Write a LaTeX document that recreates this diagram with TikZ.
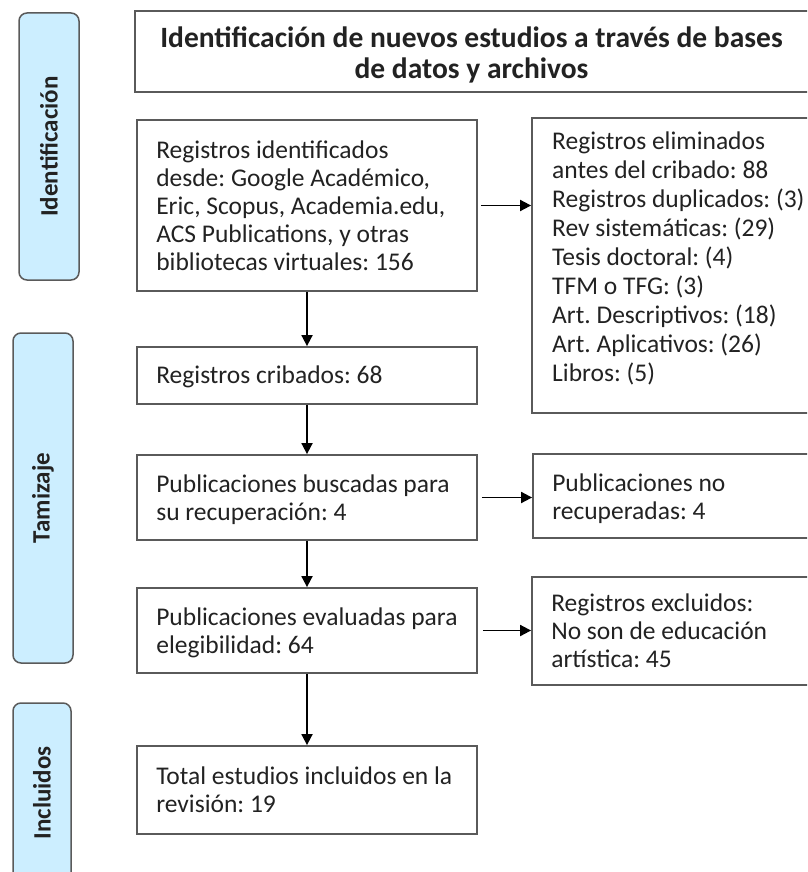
\documentclass[tikz,border=0pt]{standalone}
\usepackage{fontspec}
\setmainfont{Carlito}
\usetikzlibrary{arrows.meta}
\definecolor{boxline}{HTML}{5A5A5A}
\definecolor{sidefill}{HTML}{CCEEFF}
\definecolor{txtcol}{HTML}{222222}
\frenchspacing
\begin{document}
\begin{tikzpicture}[x=1pt,y=-1pt,
  box/.style={draw=boxline, line width=1.8pt, fill=white, inner sep=0pt},
  sidebox/.style={draw=boxline, line width=1.5pt, fill=sidefill, rounded corners=8pt, inner sep=0pt},
  sidetxt/.style={font=\fontsize{25}{28}\selectfont\bfseries, text=txtcol, rotate=90, inner sep=0pt},
  txt/.style={font=\fontsize{25.5}{28}\selectfont, text=txtcol, align=left, inner sep=0pt, anchor=west},
  ttl/.style={font=\fontsize{29.5}{31}\selectfont\bfseries, text=txtcol, align=center, inner sep=0pt},
  arr/.style={line width=1.8pt, -{Triangle[length=11pt,width=11pt]}}]
\clip (0,0) rectangle (807,872);
% side labels
\node[sidebox, minimum width=60, minimum height=267] (s1) at (49,146.5) {};
\node[sidetxt] (s1t) at (s1.center) {Identificación};
\node[sidebox, minimum width=60, minimum height=330] (s2) at (43,498) {};
\node[sidetxt] (s2t) at (s2.center) {Tamizaje};
\node[sidebox, minimum width=58, minimum height=180] (s3) at (42,793) {};
\node[sidetxt] (s3t) at (s3.center) {Incluidos};
% title
\node[box, minimum width=677, minimum height=81] (t) at (473.5,51.5) {};
\node[ttl] (tt) at ([xshift=-2,yshift=-3]t.center) {Identificación de nuevos estudios a través de bases\\de datos y archivos};
% left column
\node[box, minimum width=340, minimum height=171] (b1) at (307,205.5) {};
\node[txt] (b1t) at ([xshift=20]b1.west) {Registros identificados\\desde: Google Académico,\\Eric, Scopus, Academia.edu,\\ACS Publications, y otras\\bibliotecas virtuales: 156};
\node[box, minimum width=340, minimum height=57] (b2) at (307,375.5) {};
\node[txt] (b2t) at ([xshift=20,yshift=-1]b2.west) {Registros cribados: 68};
\node[box, minimum width=340, minimum height=85] (b3) at (307,497.5) {};
\node[txt] (b3t) at ([xshift=20,yshift=-2]b3.west) {Publicaciones buscadas para\\su recuperación: 4};
\node[box, minimum width=340, minimum height=85] (b4) at (307,630.5) {};
\node[txt] (b4t) at ([xshift=20,yshift=-2]b4.west) {Publicaciones evaluadas para\\elegibilidad: 64};
\node[box, minimum width=340, minimum height=88] (b5) at (307,790) {};
\node[txt] (b5t) at ([xshift=20]b5.west) {Total estudios incluidos en la\\revisión: 19};
% right column
\node[box, minimum width=283, minimum height=295] (r1) at (673.5,265.5) {};
\node[txt, font=\fontsize{25.5}{29}\selectfont] (r1t) at (552,258.5) {Registros eliminados\\antes del cribado: 88\\Registros duplicados: (3)\\Rev sistemáticas: (29)\\Tesis doctoral: (4)\\TFM o TFG: (3)\\Art. Descriptivos: (18)\\Art. Aplicativos: (26)\\Libros: (5)};
\node[box, minimum width=282, minimum height=84] (r2) at (674,496) {};
\node[txt] (r2t) at ([xshift=20,yshift=-3]r2.west) {Publicaciones no\\recuperadas: 4};
\node[box, minimum width=283, minimum height=108] (r3) at (673.5,631) {};
\node[txt] (r3t) at ([xshift=20]r3.west) {Registros excluidos:\\No son de educación\\artística: 45};
% arrows
\draw[arr] (b1.south) -- (b2.north);
\draw[arr] (b2.south) -- (b3.north);
\draw[arr] (b3.south) -- (b4.north);
\draw[arr] (b4.south) -- (b5.north);
\draw[arr, shorten <=3pt] (b1.east) -- (b1.east -| r1.west);
\draw[arr, shorten <=4pt] (b3.east) -- (b3.east -| r2.west);
\draw[arr, shorten <=5pt] (b4.east) -- (b4.east -| r3.west);
\end{tikzpicture}
\end{document}
